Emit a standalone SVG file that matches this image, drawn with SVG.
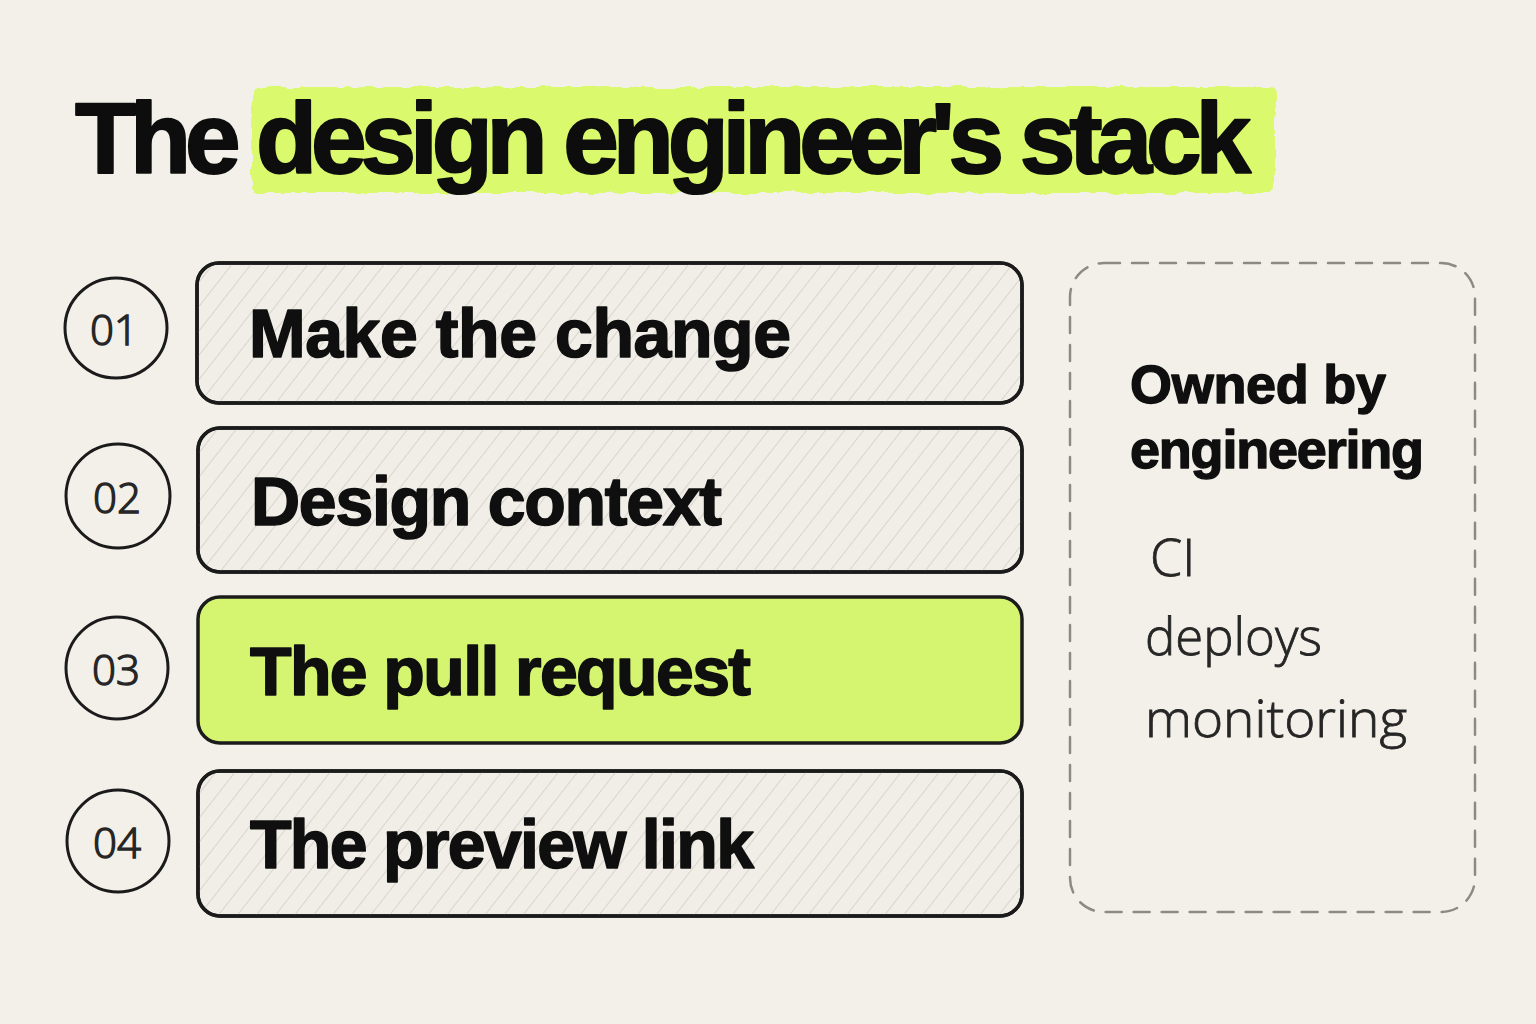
<svg xmlns="http://www.w3.org/2000/svg" width="1536" height="1024" viewBox="0 0 1536 1024">
  <defs>
    <pattern id="hatch" width="15" height="15" patternUnits="userSpaceOnUse" patternTransform="rotate(38)">
      <line x1="0" y1="0" x2="0" y2="15" stroke="#ccc7be" stroke-width="1.3"/>
    </pattern>
    <filter id="rough" x="-5%" y="-20%" width="110%" height="140%">
      <feTurbulence type="fractalNoise" baseFrequency="0.06" numOctaves="3" seed="4" result="n"/>
      <feDisplacementMap in="SourceGraphic" in2="n" scale="7" xChannelSelector="R" yChannelSelector="G"/>
    </filter>
    <style>
      .bg { fill: #f3f0ea; }
      .box { stroke: #1b1b1b; stroke-width: 3.5; }
      .hatched { fill: #f1eee8; }
      .hl { fill: #d5f571; }
      .label { font-family: "Liberation Sans", Arial, sans-serif; font-weight: 700; font-size: 68px; fill: #0f0f0f; stroke: #0f0f0f; stroke-width: 1.6; stroke-linejoin: round; }
      .num-circle { fill: none; stroke: #1b1b1b; stroke-width: 3; }
      .hand { font-family: "Open Sans", "Noto Sans", sans-serif; font-weight: 300; fill: #262626; stroke: #262626; stroke-width: 0.8; }
      .num { font-size: 42px; text-anchor: middle; stroke-width: 1.4; }
      .note { font-size: 52px; }
      .side { font-family: "Liberation Sans", Arial, sans-serif; font-weight: 700; font-size: 54px; fill: #0f0f0f; stroke: #0f0f0f; stroke-width: 1.4; stroke-linejoin: round; }
    </style>
  </defs>

  <rect class="bg" x="0" y="0" width="1536" height="1024"/>

  <g id="title">
    <rect x="252" y="87" width="1023" height="106" rx="6" fill="#daf96c" filter="url(#rough)"/>
    <text x="75" y="173" font-family="Liberation Sans, Arial, sans-serif" font-weight="700" font-size="100" fill="#0d0d0d" stroke="#0d0d0d" stroke-width="2" stroke-linejoin="round" textLength="1176" lengthAdjust="spacing">The design engineer's stack</text>
  </g>

  <g id="node-1">
    <ellipse class="num-circle" cx="116" cy="328" rx="51" ry="50"/>
    <text class="hand num" x="114" y="345">01</text>
    <rect class="box hatched" x="197" y="263" width="825" height="140" rx="22"/>
    <rect x="197" y="263" width="825" height="140" rx="22" fill="url(#hatch)"/>
    <rect class="box" x="197" y="263" width="825" height="140" rx="22" fill="none"/>
    <text class="label" x="249" y="357" textLength="542" lengthAdjust="spacing">Make the change</text>
  </g>

  <g id="node-2">
    <ellipse class="num-circle" cx="118" cy="496" rx="52" ry="52"/>
    <text class="hand num" x="117" y="513">02</text>
    <rect class="box hatched" x="198" y="428" width="824" height="144" rx="22"/>
    <rect x="198" y="428" width="824" height="144" rx="22" fill="url(#hatch)"/>
    <rect class="box" x="198" y="428" width="824" height="144" rx="22" fill="none"/>
    <text class="label" x="251" y="525" textLength="471" lengthAdjust="spacing">Design context</text>
  </g>

  <g id="node-3">
    <ellipse class="num-circle" cx="117" cy="668" rx="51" ry="51"/>
    <text class="hand num" x="116" y="685">03</text>
    <rect class="box hl" x="198" y="597" width="824" height="146" rx="22" stroke-width="4"/>
    <text class="label" x="250" y="695" textLength="501" lengthAdjust="spacing">The pull request</text>
  </g>

  <g id="node-4">
    <ellipse class="num-circle" cx="118" cy="841" rx="51" ry="51"/>
    <text class="hand num" x="117" y="858">04</text>
    <rect class="box hatched" x="198" y="771" width="824" height="145" rx="22"/>
    <rect x="198" y="771" width="824" height="145" rx="22" fill="url(#hatch)"/>
    <rect class="box" x="198" y="771" width="824" height="145" rx="22" fill="none"/>
    <text class="label" x="250" y="868" textLength="504" lengthAdjust="spacing">The preview link</text>
  </g>

  <g id="owned-by-engineering">
    <rect x="1070" y="263" width="405" height="649" rx="34" fill="none" stroke="#8d8a86" stroke-width="2.5" stroke-dasharray="16 12" stroke-linecap="round"/>
    <text class="side" x="1130" y="403" textLength="256" lengthAdjust="spacing">Owned by</text>
    <text class="side" x="1130" y="468" textLength="294" lengthAdjust="spacing">engineering</text>
    <text class="hand note" x="1150" y="576">CI</text>
    <text class="hand note" x="1145" y="655" textLength="177" lengthAdjust="spacingAndGlyphs">deploys</text>
    <text class="hand note" x="1145" y="737" textLength="262" lengthAdjust="spacingAndGlyphs">monitoring</text>
  </g>
</svg>
